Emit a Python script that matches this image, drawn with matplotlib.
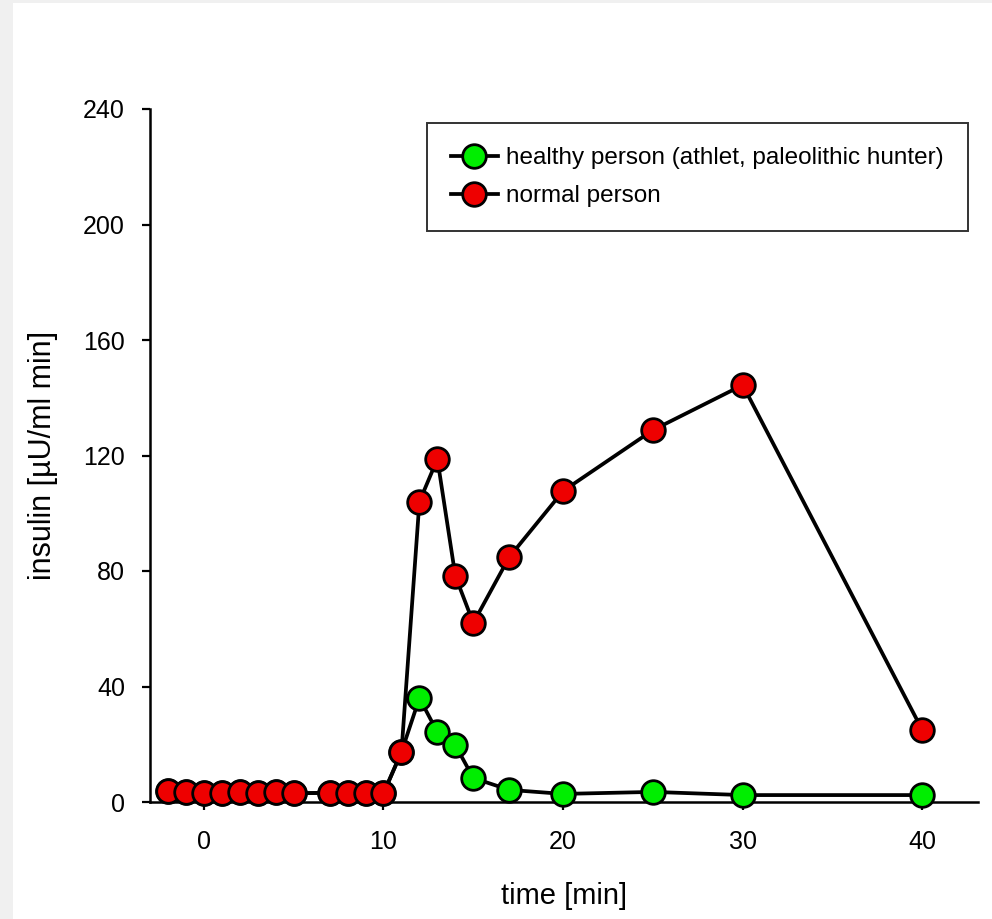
import matplotlib
matplotlib.use("Agg")
import matplotlib.pyplot as plt
from matplotlib.patches import Rectangle

plt.rcParams['font.family'] = ['Liberation Sans', 'DejaVu Sans']

# Data
time_min = [-2, -1, 0, 1, 2, 3, 4, 5, 7, 8, 9, 10, 11, 12, 13, 14, 15, 17, 20, 25, 30, 40]
normal_person = [3.8, 3.3, 3.0, 3.2, 3.4, 3.0, 3.3, 3.0, 3.2, 3.2, 3.0, 3.0,
                 17.3, 104, 118.8, 78.3, 62, 84.8, 107.7, 128.8, 144.4, 24.9]
healthy_person = [3.8, 3.3, 3.0, 3.2, 3.4, 3.0, 3.3, 3.0, 3.2, 3.2, 3.0, 3.0,
                  17.3, 36, 24.2, 19.7, 8.3, 4.2, 2.8, 3.5, 2.4, 2.4]
x_ticks = [0, 10, 20, 30, 40]
y_ticks = [0, 40, 80, 120, 160, 200, 240]
labels = ["healthy person (athlet, paleolithic hunter)", "normal person"]

fig = plt.figure(figsize=(9.92, 9.19), dpi=100)
fig.patch.set_facecolor('#f0f0f0')
fig.patches.append(Rectangle((13/992, 0), 1, 1 - 3/919, transform=fig.transFigure,
                             facecolor='white', edgecolor='none', zorder=-10))

ax = fig.add_axes([150/992, 1 - 802/919, (978 - 150)/992, (802 - 109)/919])
ax.set_facecolor('none')

mk = dict(marker='o', markersize=17, markeredgecolor='black', markeredgewidth=2.0,
          color='black', linewidth=2.7, clip_on=False)
ax.plot(time_min, healthy_person, markerfacecolor='#00ee00', label=labels[0], zorder=3, **mk)
ax.plot(time_min, normal_person, markerfacecolor='#ee0000', label=labels[1], zorder=4, **mk)

ax.set_xlim(-3, 43.1)
ax.set_ylim(0, 240)
ax.set_xticks(x_ticks)
ax.set_yticks(y_ticks)
for s in ['top', 'right']:
    ax.spines[s].set_visible(False)
for s in ['left', 'bottom']:
    ax.spines[s].set_linewidth(1.8)
ax.tick_params(direction='out', length=6, width=1.6, labelsize=18)
ax.tick_params(axis='y', pad=12)
ax.tick_params(axis='x', pad=14)
ax.set_xlabel('time [min]', fontsize=21, labelpad=20)
ax.set_ylabel('insulin [µU/ml min]', fontsize=22, labelpad=18)

leg = ax.legend(loc='upper right', fontsize=17.5, fancybox=False,
                frameon=True, edgecolor='black', borderpad=1.0, handlelength=1.9,
                handletextpad=0.35, labelspacing=0.65, borderaxespad=0)
leg.get_frame().set_linewidth(1.4)
leg.set_bbox_to_anchor((968/992, 1 - 123/919), transform=fig.transFigure)

fig.savefig('out.png', dpi=100, facecolor=fig.get_facecolor())
